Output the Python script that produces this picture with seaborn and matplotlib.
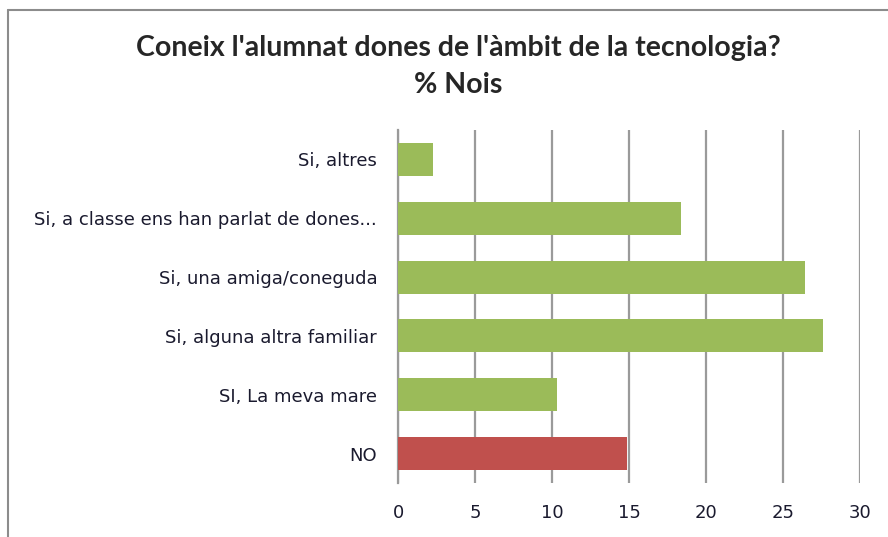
import matplotlib
matplotlib.use("Agg")
import matplotlib.pyplot as plt
from matplotlib.lines import Line2D
import seaborn as sns
import pandas as pd

# data
categories = ["Si, altres", "Si, a classe ens han parlat de dones...", "Si, una amiga/coneguda",
              "Si, alguna altra familiar", "SI, La meva mare", "NO"]
values = [2.3, 18.4, 26.4, 27.6, 10.3, 14.9]
bar_colors = ["#9BBB59", "#9BBB59", "#9BBB59", "#9BBB59", "#9BBB59", "#C0504D"]
xticks = [0, 5, 10, 15, 20, 25, 30]

df = pd.DataFrame({"cat": categories, "val": values})

sns.set_style("white")
plt.rcParams["font.family"] = ["DejaVu Sans"]

fig = plt.figure(figsize=(8.88, 5.37), dpi=100)
ax = fig.add_axes([398 / 888, 1 - 483 / 537, 462 / 888, 353 / 537])

sns.barplot(data=df, x="val", y="cat", hue="cat", palette=bar_colors, legend=False,
            width=0.56, saturation=1, ax=ax, zorder=3, edgecolor="none")

ax.set_xlim(0, 30)
ax.set_xticks(xticks)
ax.set_xticklabels([str(t) for t in xticks], fontsize=13, color="#1a1a2e")
ax.tick_params(axis="x", length=0, pad=15)
ax.tick_params(axis="y", length=0, pad=15, labelsize=13, labelcolor="#1a1a2e")
ax.set_xlabel("")
ax.set_ylabel("")
ax.grid(axis="x", color="#9a9a9a", linewidth=1.6, zorder=0)
ax.grid(axis="y", visible=False)
for s in ["top", "right", "bottom"]:
    ax.spines[s].set_visible(False)
ax.spines["left"].set_color("#9a9a9a")
ax.spines["left"].set_linewidth(1.6)

fig.text(458 / 888, 1 - 48 / 537, "Coneix l'alumnat dones de l'àmbit de la tecnologia?",
         ha="center", va="center", fontsize=20.5, fontweight="bold", family="Lato")
fig.text(458 / 888, 1 - 85 / 537, "% Nois", ha="center", va="center", fontsize=20.5,
         fontweight="bold", family="Lato")

# chart area border (left and top edges visible)
fig.add_artist(Line2D([7.5 / 888, 7.5 / 888], [0, 1 - 10 / 537], color="#8c8c8c", linewidth=1.5))
fig.add_artist(Line2D([7.5 / 888, 1], [1 - 10 / 537, 1 - 10 / 537], color="#8c8c8c", linewidth=1.5))

fig.savefig("out.png", dpi=100)
